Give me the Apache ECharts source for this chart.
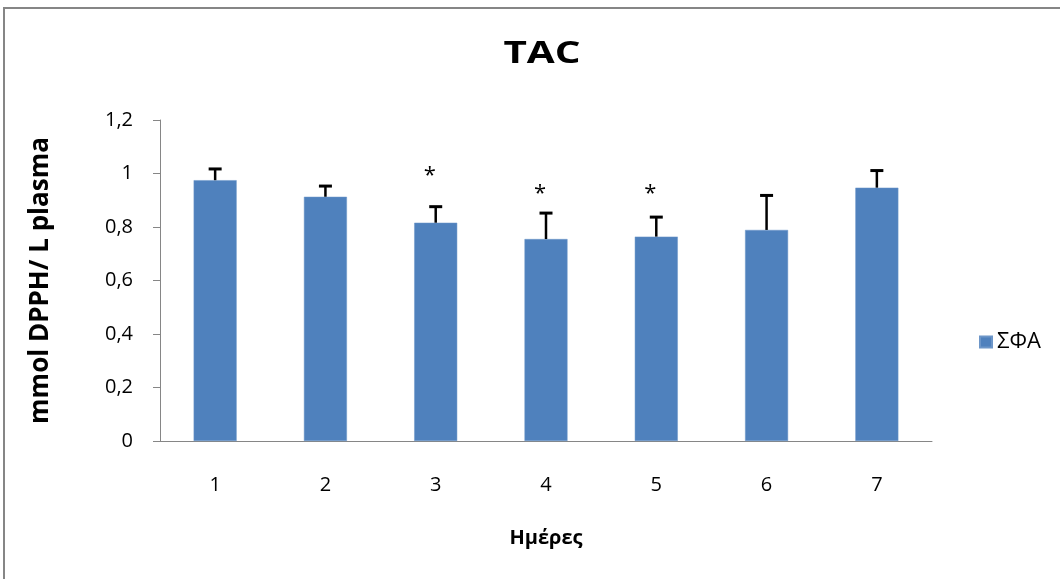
<!DOCTYPE html>
<html>
<head>
<meta charset="utf-8">
<script src="https://cdn.jsdelivr.net/npm/echarts@6/dist/echarts.min.js"></script>
<style>
html,body{margin:0;padding:0;background:#fff;}
#chart{width:1060px;height:579px;}
</style>
</head>
<body>
<div id="chart"></div>
<script>
const categories = ['1', '2', '3', '4', '5', '6', '7'];
const values = [0.975, 0.913, 0.816, 0.755, 0.764, 0.789, 0.947];
const errors = [0.042, 0.040, 0.060, 0.097, 0.073, 0.129, 0.064];
const starValues = [null, null, 1.005, 0.938, 0.938, null, null];
const yTicks = [0, 0.2, 0.4, 0.6, 0.8, 1, 1.2];

const FONT = '"Open Sans", "DejaVu Sans", sans-serif';
const chart = echarts.init(document.getElementById('chart'), null, {renderer: 'canvas'});

const errData = categories.map((c, i) => [i, values[i], values[i] + errors[i]]);
const starData = categories.map((c, i) => starValues[i] == null ? null : [i, starValues[i]]).filter(d => d);

chart.setOption({
  animation: false,
  backgroundColor: '#fff',
  graphic: [
    {
      type: 'rect', z: 100, silent: true,
      shape: {x: 4, y: 8, width: 1200, height: 800},
      style: {fill: 'none', stroke: '#868686', lineWidth: 2}
    },
    {
      type: 'text', silent: true, x: 542, y: 54, scaleX: 1.35,
      style: {text: 'TAC', x: 0, y: 0, align: 'center', verticalAlign: 'middle',
              fontFamily: FONT, fontSize: 30, fontWeight: 'bold', fill: '#000'}
    }
  ],
  legend: {
    data: ['ΣΦΑ'], left: 974, top: 326, icon: 'rect', itemWidth: 12, itemHeight: 11, itemGap: 6,
    textStyle: {fontFamily: FONT, fontSize: 22, color: '#000', padding: [0, 0, 0, 0]}
  },
  grid: {left: 160, right: 128, top: 120, bottom: 138, containLabel: false},
  xAxis: {
    type: 'category', data: categories,
    name: 'Ημέρες', nameLocation: 'middle', nameGap: 87,
    nameTextStyle: {fontFamily: FONT, fontSize: 20, fontWeight: 'bold', color: '#000'},
    axisLine: {lineStyle: {color: '#868686', width: 1}},
    axisTick: {show: false},
    axisLabel: {fontFamily: FONT, fontSize: 20, color: '#000', margin: 34}
  },
  yAxis: {
    type: 'value', min: 0, max: 1.2, interval: 0.2,
    name: 'mmol DPPH/ L plasma', nameLocation: 'middle', nameGap: 106,
    nameTextStyle: {fontFamily: FONT, fontSize: 26, fontWeight: 'bold', color: '#000'},
    axisLine: {show: true, lineStyle: {color: '#868686', width: 1}},
    axisTick: {show: true, length: 7, lineStyle: {color: '#868686'}},
    splitLine: {show: false},
    axisLabel: {
      fontFamily: FONT, fontSize: 20, color: '#000', margin: 27,
      formatter: v => {
        const t = yTicks.find(x => Math.abs(x - v) < 1e-9);
        return String(t != null ? t : v).replace('.', ',');
      }
    }
  },
  series: [
    {
      name: 'ΣΦΑ', type: 'bar', data: values, barWidth: 43,
      itemStyle: {color: '#4F81BD', borderColor: '#6d96c8', borderWidth: 0.5}
    },
    {
      type: 'custom', data: errData, z: 10,
      renderItem: (params, api) => {
        const x = api.value(0);
        const p0 = api.coord([x, api.value(1)]);
        const p1 = api.coord([x, api.value(2)]);
        const half = 6.5;
        return {
          type: 'group',
          children: [
            {type: 'line', shape: {x1: p0[0], y1: p0[1], x2: p1[0], y2: p1[1]}, style: {stroke: '#000', lineWidth: 2.5}},
            {type: 'line', shape: {x1: p1[0] - half, y1: p1[1], x2: p1[0] + half, y2: p1[1]}, style: {stroke: '#000', lineWidth: 3}}
          ]
        };
      }
    },
    {
      type: 'custom', data: starData, z: 10,
      renderItem: (params, api) => {
        const p = api.coord([api.value(0), api.value(1)]);
        return {
          type: 'text',
          style: {x: p[0] - 6, y: p[1] + 4, text: '*', fontFamily: FONT, fontSize: 22, fill: '#000', align: 'center', verticalAlign: 'middle'}
        };
      }
    }
  ]
});
</script>
</body>
</html>
